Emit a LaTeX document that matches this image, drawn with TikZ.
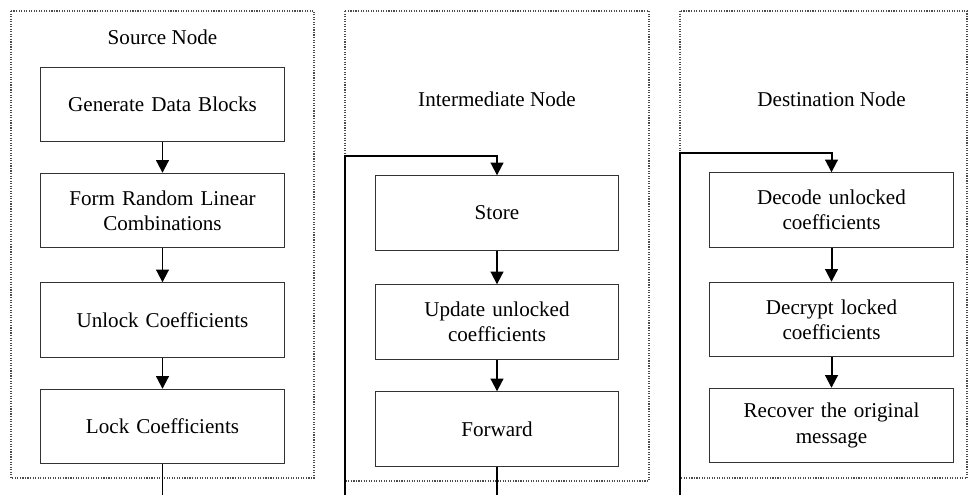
\documentclass[tikz,border=0pt]{standalone}
\usepackage{fontspec}
\setmainfont{Liberation Serif}
\usetikzlibrary{arrows.meta}

\begin{document}
\begin{tikzpicture}[
    x=0.025cm, y=-0.025cm,
    panel/.style={
        draw=black!70,
        densely dotted,
        line width=0.8pt
    },
    title/.style={
        font=\fontsize{15}{18}\selectfont
    },
    box/.style={
        rectangle,
        draw=black!80,
        line width=0.7pt,
        minimum width=6.075cm,
        minimum height=1.86cm,
        text width=5.6cm,
        align=center,
        font=\fontsize{15}{18}\selectfont,
        inner sep=0pt
    },
    arrow/.style={-{Triangle[length=0.32cm,width=0.32cm]}, line width=1.4pt},
    link/.style={line width=1.4pt}
]

\useasboundingbox (0,0) rectangle (970,495);

% panels
\draw[panel] (11,11) rectangle (314,478);
\draw[panel] (345,11) rectangle (649,481);
\draw[panel] (680,11) rectangle (967,478);

\node[title] (srcTitle) at (162.5,37) {Source Node};
\node[title] (midTitle) at (497,99) {Intermediate Node};
\node[title] (dstTitle) at (831.5,99) {Destination Node};

% source node
\node[box] (generate) at (162.5,104.5) {Generate Data Blocks};
\node[box] (combine) at (162.5,210.5) {Form Random Linear\\Combinations};
\node[box] (unlock) at (162.5,320) {Unlock Coefficients};
\node[box] (lock) at (162.5,426.5) {Lock Coefficients};

% intermediate node
\node[box] (store) at (497,213) {Store};
\node[box] (update) at (497,322) {Update unlocked\\coefficients};
\node[box] (forward) at (497,429) {Forward};

% destination node
\node[box] (decode) at (831.5,210) {Decode unlocked\\coefficients};
\node[box] (decrypt) at (831.5,319.5) {Decrypt locked\\coefficients};
\node[box] (recover) at (831.5,425.5) {Recover the original\\message};

\coordinate (srcOut) at (162.5,495);
\coordinate (midIn) at (345,495);
\coordinate (midTurn) at (345,156);
\coordinate (midOut) at (497,495);
\coordinate (dstIn) at (680,495);
\coordinate (dstTurn) at (680,153);

\draw[arrow] (generate.south) -- (combine.north);
\draw[arrow] (combine.south) -- (unlock.north);
\draw[arrow] (unlock.south) -- (lock.north);
\draw[link] (lock.south) -- (srcOut);

\draw[arrow] (midIn) -- (midTurn) -| (store.north);
\draw[arrow] (store.south) -- (update.north);
\draw[arrow] (update.south) -- (forward.north);
\draw[link] (forward.south) -- (midOut);

\draw[arrow] (dstIn) -- (dstTurn) -| (decode.north);
\draw[arrow] (decode.south) -- (decrypt.north);
\draw[arrow] (decrypt.south) -- (recover.north);

\end{tikzpicture}
\end{document}
